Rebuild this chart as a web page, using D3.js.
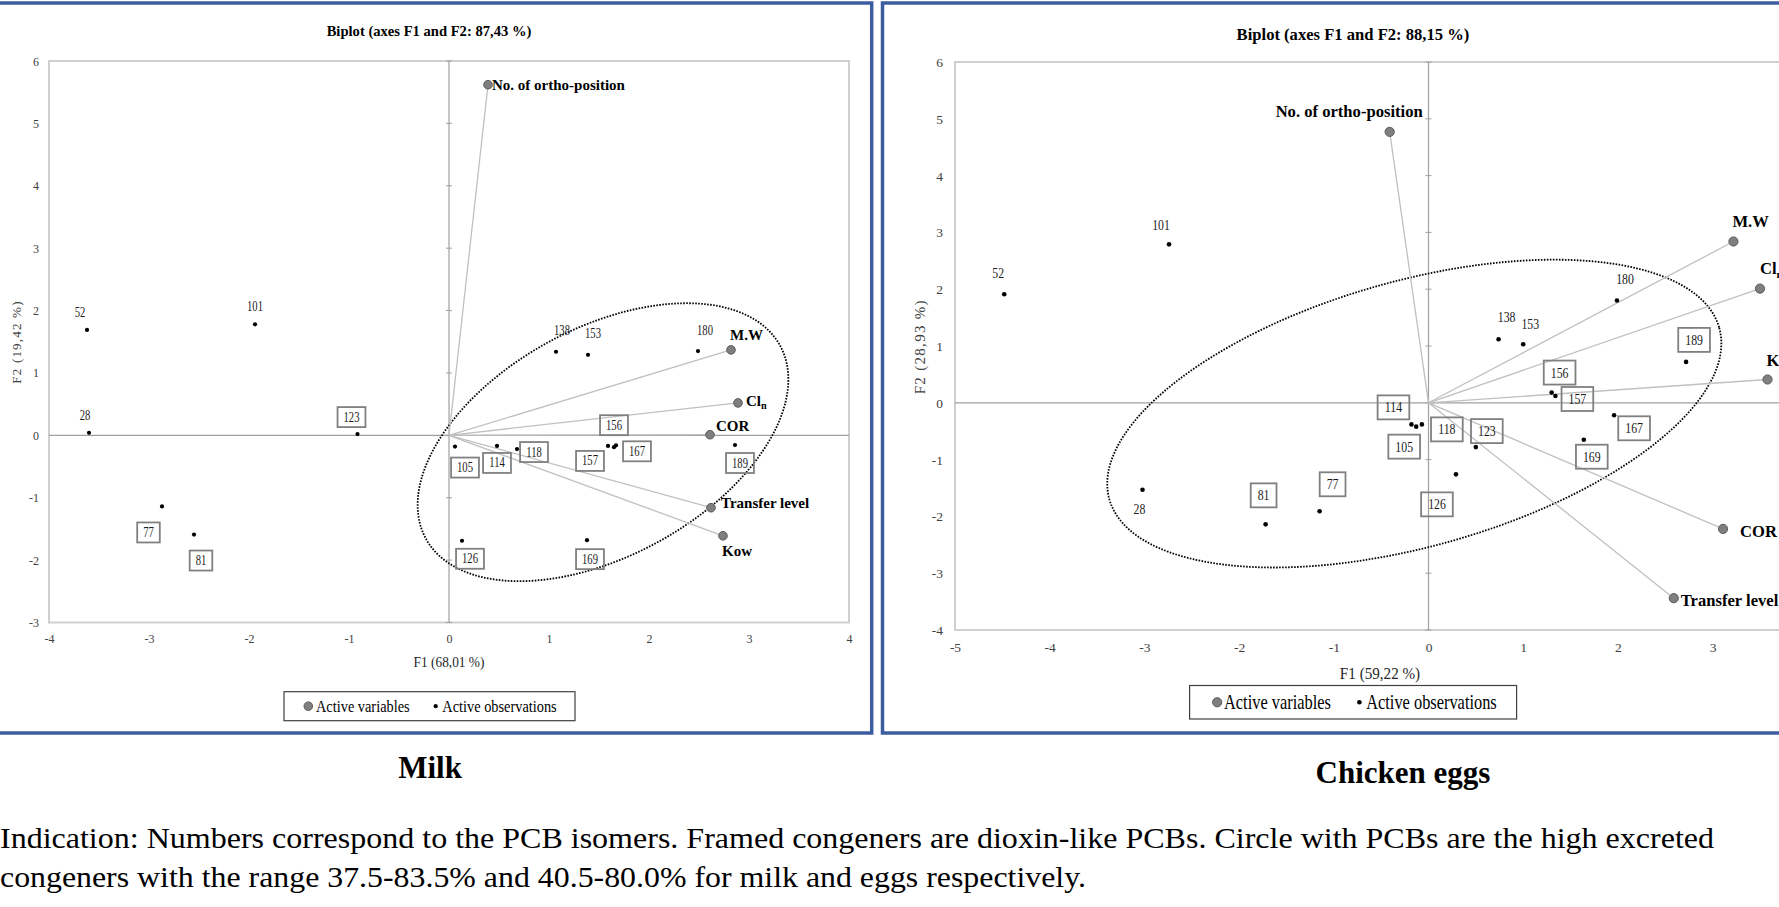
<!DOCTYPE html>
<html>
<head>
<meta charset="utf-8">
<script src="https://cdn.jsdelivr.net/npm/d3@7"></script>
<style>
  body { margin: 0; background: #fff; overflow: hidden; }
  text { font-family: "Liberation Serif", "Times New Roman", serif; }
</style>
</head>
<body>
<svg id="fig" width="1779" height="907"></svg>
<script>
// ---- data ----
var congeners = ["52", "101", "28", "123", "138", "153", "180", "105", "114",
                 "118", "156", "157", "167", "189", "126", "169", "77", "81"];
var dioxinLike = ["123", "105", "114", "118", "156", "157", "167", "189", "126", "169", "77", "81"];

var milkF1 = [-3.62, -1.94, -3.60, -0.915, 1.07, 1.39, 2.49, 0.06, 0.48,
              0.68, 1.65, 1.59, 1.67, 2.86, 0.13, 1.38, -2.87, -2.55];
var milkF2 = [1.69, 1.78, 0.04, 0.02, 1.34, 1.29, 1.35, -0.18, -0.17,
              -0.22, -0.19, -0.17, -0.16, -0.155, -1.69, -1.68, -1.14, -1.59];

var eggF1 = [-4.48, -2.74, -3.02, 0.50, 0.74, 1.00, 1.99, -0.13, -0.18,
             -0.07, 1.30, 1.34, 1.96, 2.72, 0.29, 1.64, -1.15, -1.72];
var eggF2 = [1.91, 2.79, -1.53, -0.78, 1.12, 1.03, 1.80, -0.42, -0.38,
             -0.38, 0.18, 0.12, -0.22, 0.72, -1.26, -0.65, -1.91, -2.14];

var variables = ["No. of ortho-position", "M.W", "Cln", "COR", "Transfer level", "Kow"];
var milkVarF1 = [0.39, 2.82, 2.89, 2.61, 2.62, 2.74];
var milkVarF2 = [5.62, 1.37, 0.52, 0.01, -1.16, -1.61];
var eggVarF1 = [-0.41, 3.22, 3.50, 3.11, 2.59, 3.58];
var eggVarF2 = [4.77, 2.84, 2.01, -2.22, -3.44, 0.41];

var milkXTicks = [-4, -3, -2, -1, 0, 1, 2, 3, 4];
var milkYTicks = [-3, -2, -1, 0, 1, 2, 3, 4, 5, 6];
// the eggs plot runs to F1 = 5 but the picture is cropped after 3
var eggXTicks = [-5, -4, -3, -2, -1, 0, 1, 2, 3];
var eggYTicks = [-4, -3, -2, -1, 0, 1, 2, 3, 4, 5, 6];

// dotted ring: centre and two conjugate semi-axes, in F1/F2 units
var milkRingCentre = [1.54, -0.11], milkRingU = [1.77, 1.55], milkRingV = [0.55, -1.60];
var eggRingCentre = [-0.15, -0.19], eggRingU = [3.22, 1.51], eggRingV = [0.38, -2.25];

var milkTitle = "Biplot (axes F1 and F2: 87,43 %)";
var eggTitle = "Biplot (axes F1 and F2: 88,15 %)";
var milkXTitle = "F1 (68,01 %)", milkYTitle = "F2 (19,42 %)";
var eggXTitle = "F1 (59,22 %)", eggYTitle = "F2 (28,93 %)";
var legendItems = ["Active variables", "Active observations"];
var note1 = "Indication: Numbers correspond to the PCB isomers. Framed congeners are dioxin-like PCBs. Circle with PCBs are the high excreted";
var note2 = "congeners with the range 37.5-83.5% and 40.5-80.0% for milk and eggs respectively.";

// ---- layout (pixels) ----
var milkLabelOff = {"52": [-7, -17], "101": [0, -18], "28": [-4, -17], "123": [-6, -17],
  "138": [6, -21], "153": [5, -21], "180": [7, -21], "105": [10, 21], "114": [0, 17],
  "118": [17, 3], "156": [0, -22], "157": [-18, 15], "167": [21, 6], "189": [5, 18],
  "126": [8, 18], "169": [3, 19], "77": [-13.5, 26], "81": [7, 26]};
var eggLabelOff = {"52": [-6, -21], "101": [-8, -19], "28": [-3, 19], "123": [11, -16],
  "138": [8, -22], "153": [7, -20], "180": [8, -22], "105": [-12, 20], "114": [-18, -17],
  "118": [25, 5], "156": [8, -20], "157": [22, 3], "167": [20, 13], "189": [8, -22],
  "126": [-19, 30], "169": [8, 17], "77": [13, -27], "81": [-2, -29]};
var milkVarOff = [[4, 0, "start"], [-1, -15, "start"], [8, -2, "start"],
                  [6, -9, "start"], [10, -5, "start"], [-1, 15, "start"]];
var eggVarOff = [[33, -20, "end"], [-1, -20, "start"], [0, -20, "start"],
                 [17, 3, "start"], [7, 2, "start"], [-1, -19, "start"]];

var FONT = "Liberation Serif, Times New Roman, serif";

var svg = d3.select("#fig");
svg.append("rect").attr("width", 1779).attr("height", 907).attr("fill", "#fff");

function addText(g, x, y, str, size, sq, anchor, weight) {
  return g.append("text")
    .attr("transform", "translate(" + x + "," + y + ") scale(" + sq + ",1)")
    .attr("font-family", FONT)
    .attr("font-size", size)
    .attr("font-weight", weight || "normal")
    .attr("text-anchor", anchor || "middle")
    .attr("dominant-baseline", "central")
    .attr("fill", "#000")
    .text(str);
}

function drawPanel(p) {
  var g = svg.append("g");

  // blue picture frame
  g.append("rect")
    .attr("x", p.frame[0]).attr("y", p.frame[1])
    .attr("width", p.frame[2]).attr("height", p.frame[3])
    .attr("fill", "none").attr("stroke", "#3d5e9e").attr("stroke-width", 3.5);

  var x = d3.scaleLinear().domain(p.xDomain).range([p.left, p.right]);
  var y = d3.scaleLinear().domain(p.yDomain).range([p.bottom, p.top]);

  g.append("rect")
    .attr("x", p.left).attr("y", p.top)
    .attr("width", p.right - p.left).attr("height", p.bottom - p.top)
    .attr("fill", "none").attr("stroke", "#cfcfcf").attr("stroke-width", 2);

  // zero lines
  g.append("line")
    .attr("x1", x(0)).attr("x2", x(0)).attr("y1", y(p.yDomain[1])).attr("y2", y(p.yDomain[0]))
    .attr("stroke", "#a0a0a0").attr("stroke-width", 1.2);
  g.append("line")
    .attr("x1", x(p.xDomain[0])).attr("x2", x(p.xDomain[1])).attr("y1", y(0)).attr("y2", y(0))
    .attr("stroke", "#a0a0a0").attr("stroke-width", 1.2);
  g.selectAll(".ztick")
    .data(p.yTicks)
    .enter().append("line")
      .attr("x1", x(0) - 3).attr("x2", x(0) + 3)
      .attr("y1", function(d) { return y(d); })
      .attr("y2", function(d) { return y(d); })
      .attr("stroke", "#a0a0a0");

  // tick labels via axes
  var ya = g.append("g")
    .attr("transform", "translate(" + p.left + ",0)")
    .call(d3.axisLeft(y).tickValues(p.yTicks).tickSize(0).tickPadding(p.yPad)
      .tickFormat(function(d) { return String(d); }));
  var xa = g.append("g")
    .attr("transform", "translate(0," + p.bottom + ")")
    .call(d3.axisBottom(x).tickValues(p.xTicks).tickSize(0)
      .tickFormat(function(d) { return String(d); }));
  [ya, xa].forEach(function(a) {
    a.select(".domain").remove();
    a.selectAll("text")
      .attr("font-family", FONT)
      .attr("font-size", p.tickSize)
      .attr("fill", "#404040")
      .attr("dy", null)
      .attr("dominant-baseline", "central");
  });
  xa.selectAll("text").attr("y", p.xPad);

  // dotted ring
  var ring = d3.range(0, 2 * Math.PI + 0.01, 0.02).map(function(t) {
    return [p.ring[0][0] + p.ring[1][0] * Math.cos(t) + p.ring[2][0] * Math.sin(t),
            p.ring[0][1] + p.ring[1][1] * Math.cos(t) + p.ring[2][1] * Math.sin(t)];
  });
  g.append("path")
    .attr("d", d3.line().x(function(d) { return x(d[0]); }).y(function(d) { return y(d[1]); })(ring))
    .attr("fill", "none").attr("stroke", "#000")
    .attr("stroke-width", 1.8).attr("stroke-dasharray", "1.6,1.4");

  // variable vectors
  var vars = variables.map(function(v, i) {
    return {name: v, f1: p.varF1[i], f2: p.varF2[i], off: p.varOff[i]};
  });
  g.selectAll(".vec")
    .data(vars)
    .enter().append("line")
      .attr("x1", x(0)).attr("y1", y(0))
      .attr("x2", function(d) { return x(d.f1); })
      .attr("y2", function(d) { return y(d.f2); })
      .attr("stroke", "#c0c0c0").attr("stroke-width", 1.3);

  // observations
  var obs = congeners.map(function(c, i) {
    return {id: c, f1: p.f1[i], f2: p.f2[i], framed: dioxinLike.indexOf(c) >= 0};
  });
  obs.forEach(function(d) {
    var lx = x(d.f1) + p.labelOff[d.id][0],
        ly = y(d.f2) + p.labelOff[d.id][1];
    if (d.framed) {
      var w = d.id.length * p.digitW + p.boxPad;
      g.append("rect")
        .attr("x", lx - w / 2).attr("y", ly - p.boxH / 2)
        .attr("width", w).attr("height", p.boxH)
        .attr("fill", "none").attr("stroke", "#808080").attr("stroke-width", 1.8);
    }
    addText(g, lx, ly, d.id, p.obsSize, 0.76).attr("fill", "#1a1a1a");
  });
  g.selectAll(".dot")
    .data(obs)
    .enter().append("circle")
      .attr("cx", function(d) { return x(d.f1); })
      .attr("cy", function(d) { return y(d.f2); })
      .attr("r", p.dotR)
      .attr("fill", "#000");

  g.selectAll(".var")
    .data(vars)
    .enter().append("circle")
      .attr("cx", function(d) { return x(d.f1); })
      .attr("cy", function(d) { return y(d.f2); })
      .attr("r", p.varR)
      .attr("fill", "#7f7f7f").attr("stroke", "#5a5a5a").attr("stroke-width", 1);

  vars.forEach(function(d) {
    var lx = x(d.f1) + d.off[0], ly = y(d.f2) + d.off[1];
    if (d.name === "Cln") {
      var t = addText(g, lx, ly, "Cl", p.varSize, 1, d.off[2], "bold");
      t.append("tspan").attr("font-size", p.varSize * 0.68).attr("dy", p.varSize * 0.3).text("n");
    } else {
      addText(g, lx, ly, d.name, p.varSize, 1, d.off[2], "bold");
    }
  });

  // titles
  addText(g, p.title[0], p.title[1], p.titleText, p.titleSize, 1, "middle", "bold");
  addText(g, p.xTitle[0], p.xTitle[1], p.xTitleText, p.xTitleSize, p.xTitleSq).attr("fill", "#262626");
  g.append("text")
    .attr("transform", "translate(" + p.yTitle[0] + "," + p.yTitle[1] + ") rotate(-90)")
    .attr("font-family", FONT)
    .attr("font-size", p.yTitleSize)
    .attr("letter-spacing", p.yTitleSpacing)
    .attr("text-anchor", "middle")
    .attr("dominant-baseline", "central")
    .attr("fill", "#404040")
    .text(p.yTitleText);

  // legend
  var L = p.legend;
  g.append("rect")
    .attr("x", L.box[0]).attr("y", L.box[1]).attr("width", L.box[2]).attr("height", L.box[3])
    .attr("fill", "#fff").attr("stroke", "#404040").attr("stroke-width", 1.2);
  var ly = L.box[1] + L.box[3] / 2;
  g.append("circle").attr("cx", L.marks[0]).attr("cy", ly).attr("r", p.varR)
    .attr("fill", "#7f7f7f").attr("stroke", "#5a5a5a");
  g.append("circle").attr("cx", L.marks[2]).attr("cy", ly).attr("r", p.dotR).attr("fill", "#000");
  addText(g, L.marks[1], ly, legendItems[0], L.size, 0.82, "start");
  addText(g, L.marks[3], ly, legendItems[1], L.size, 0.82, "start");

  addText(g, p.caption[0], p.caption[1], p.captionText, 31, 1, "middle", "bold");
}

drawPanel({
  frame: [-5, 3, 876.7, 730],
  left: 49, right: 849, top: 61, bottom: 622.5,
  xDomain: [-4, 4], yDomain: [-3, 6],
  xTicks: milkXTicks, yTicks: milkYTicks,
  tickSize: 12, yPad: 10, xPad: 16.5,
  f1: milkF1, f2: milkF2, labelOff: milkLabelOff,
  varF1: milkVarF1, varF2: milkVarF2, varOff: milkVarOff,
  ring: [milkRingCentre, milkRingU, milkRingV],
  obsSize: 14, digitW: 5.3, boxPad: 12, boxH: 20, dotR: 2.1, varR: 4.3, varSize: 15,
  title: [429, 30.5], titleText: milkTitle, titleSize: 14.6,
  xTitle: [449, 661.7], xTitleText: milkXTitle, xTitleSize: 15, xTitleSq: 0.89,
  yTitle: [16.8, 342], yTitleText: milkYTitle, yTitleSize: 13, yTitleSpacing: 1.2,
  legend: {box: [284, 691.7, 291, 29], marks: [308.3, 316, 435.7, 442.3], size: 17.5},
  caption: [430, 767.5], captionText: "Milk"
});

drawPanel({
  frame: [882.5, 3, 1000, 730],
  left: 955, right: 1902, top: 62, bottom: 630,
  xDomain: [-5, 5], yDomain: [-4, 6],
  xTicks: eggXTicks, yTicks: eggYTicks,
  tickSize: 13.5, yPad: 12, xPad: 17.5,
  f1: eggF1, f2: eggF2, labelOff: eggLabelOff,
  varF1: eggVarF1, varF2: eggVarF2, varOff: eggVarOff,
  ring: [eggRingCentre, eggRingU, eggRingV],
  obsSize: 15.5, digitW: 5.9, boxPad: 14, boxH: 24, dotR: 2.3, varR: 4.6, varSize: 16.6,
  title: [1353, 34.5], titleText: eggTitle, titleSize: 16.6,
  xTitle: [1380, 673.3], xTitleText: eggXTitle, xTitleSize: 17.6, xTitleSq: 0.86,
  yTitle: [920, 346.7], yTitleText: eggYTitle, yTitleSize: 15, yTitleSpacing: 1.3,
  legend: {box: [1189.6, 685.5, 327, 33.5], marks: [1217.2, 1224, 1359.4, 1366.2], size: 20},
  caption: [1403, 772.5], captionText: "Chicken eggs"
});

// note under the figure
var n1 = addText(svg, 0, 838.3, note1, 29.5, 1, "start");
n1.attr("textLength", 1714).attr("lengthAdjust", "spacingAndGlyphs");
var n2 = addText(svg, 0, 876.7, note2, 29.5, 1, "start");
n2.attr("textLength", 1086).attr("lengthAdjust", "spacingAndGlyphs");
</script>
</body>
</html>
